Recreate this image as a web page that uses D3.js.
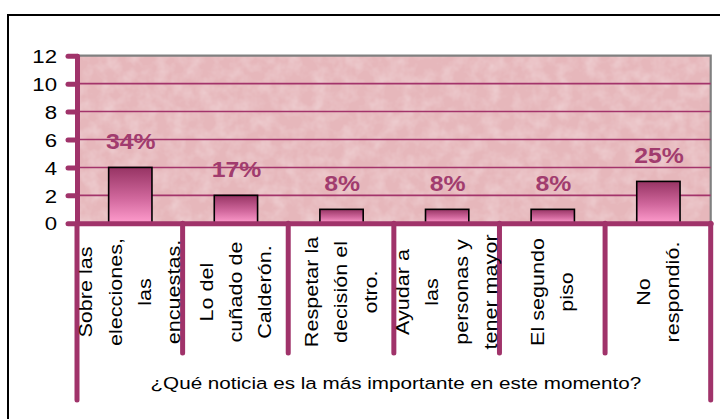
<!DOCTYPE html>
<html>
<head>
<meta charset="utf-8">
<script src="https://cdn.jsdelivr.net/npm/d3@7"></script>
<style>
  body { margin: 0; background: #fff; }
  svg { display: block; font-family: "Liberation Sans", Arial, sans-serif; }
</style>
</head>
<body>
<div class="chartContainer"></div>
<script>
// data
var categories = [
    ["Sobre las", "elecciones,", "las", "encuestas."],
    ["Lo del", "cuñado de", "Calderón."],
    ["Respetar la", "decisión el", "otro."],
    ["Ayudar a", "las", "personas y", "tener mayor"],
    ["El segundo", "piso"],
    ["No", "respondió."]
];
var values = [4, 2, 1, 1, 1, 3];
var percentLabels = ["34%", "17%", "8%", "8%", "8%", "25%"];
var yTicks = [0, 2, 4, 6, 8, 10, 12];
var axisTitle = "¿Qué noticia es la más importante en este momento?";

function Graph() {
    const width = 720;
    const height = 419;
    const left = 77, right = 710.7, top = 55.7, bottom = 223.3;
    const magenta = '#a0336a';

    const xScale = d3.scaleBand()
                     .domain(d3.range(categories.length))
                     .range([left, right])
                     .padding(0);

    const yScale = d3.scaleLinear()
                     .domain([0, 12])
                     .range([bottom, top]);

    const svg = d3.select('.chartContainer')
                  .append('svg')
                    .attr('width', width)
                    .attr('height', height);

    const defs = svg.append('defs');
    const grad = defs.append('linearGradient')
                     .attr('id', 'barGrad')
                     .attr('x1', 0).attr('y1', 0).attr('x2', 0).attr('y2', 1);
    grad.append('stop').attr('offset', '0%').attr('stop-color', '#973464');
    grad.append('stop').attr('offset', '55%').attr('stop-color', '#d0679c');
    grad.append('stop').attr('offset', '100%').attr('stop-color', '#ff9ccd');

    // marbled look for the plot background
    const f = defs.append('filter').attr('id', 'marble')
                  .attr('x', 0).attr('y', 0).attr('width', 1).attr('height', 1);
    f.append('feTurbulence').attr('type', 'fractalNoise')
     .attr('baseFrequency', 0.07).attr('numOctaves', 3).attr('seed', 4);
    f.append('feColorMatrix').attr('type', 'matrix')
     .attr('values', '0 0 0 0 1  0 0 0 0 1  0 0 0 0 1  0 0 0 0.55 -0.2');
    f.append('feComposite').attr('in2', 'SourceGraphic').attr('operator', 'in');

    // outer frame (runs off the picture to the right and bottom)
    svg.append('rect')
       .attr('x', 8).attr('y', 15)
       .attr('width', 730).attr('height', 430)
       .attr('fill', 'none')
       .attr('stroke', '#000')
       .attr('stroke-width', 2);

    // plot area
    svg.append('rect')
       .attr('x', left).attr('y', top)
       .attr('width', right - left).attr('height', bottom - top)
       .attr('fill', '#e6b7bb');
    svg.append('rect')
       .attr('x', left).attr('y', top)
       .attr('width', right - left).attr('height', bottom - top)
       .attr('fill', '#fff')
       .attr('filter', 'url(#marble)');

    // grey border top and right
    svg.append('path')
       .attr('d', `M${left},${top}H${right}V${bottom}`)
       .attr('fill', 'none')
       .attr('stroke', '#808080')
       .attr('stroke-width', 2.2);

    // gridlines
    svg.selectAll('.grid')
       .data(yTicks.filter(t => t > 0 && t < 12))
       .enter()
       .append('line')
         .attr('x1', left).attr('x2', right)
         .attr('y1', d => yScale(d)).attr('y2', d => yScale(d))
         .attr('stroke', '#a3346b')
         .attr('stroke-width', 1.6);

    // bars
    const barW = xScale.bandwidth() * 0.41;
    svg.selectAll('.bar')
       .data(values)
       .enter()
       .append('rect')
         .attr('x', (d, i) => xScale(i) + xScale.bandwidth() / 2 - barW / 2 + 0.5)
         .attr('y', d => yScale(d))
         .attr('width', barW)
         .attr('height', d => bottom - yScale(d))
         .attr('fill', 'url(#barGrad)')
         .attr('stroke', '#000')
         .attr('stroke-width', 1.6);

    // percent labels
    svg.selectAll('.pct')
       .data(values)
       .enter()
       .append('text')
         .attr('transform', (d, i) => `translate(${xScale(i) + xScale.bandwidth() / 2 + 1},${yScale(d) - 18.3}) scale(1.1,1)`)
         .attr('text-anchor', 'middle')
         .attr('font-size', 22.5)
         .attr('font-weight', 'bold')
         .attr('fill', '#a13c6e')
         .text((d, i) => percentLabels[i]);

    // y axis
    const yAxis = svg.append('g')
                     .attr('transform', `translate(${left},0)`)
                     .call(d3.axisLeft(yScale).tickValues(yTicks).tickSizeInner(9).tickSizeOuter(0).tickPadding(11));
    yAxis.select('.domain')
         .attr('stroke', magenta).attr('stroke-width', 5).attr('stroke-linecap', 'round');
    yAxis.selectAll('.tick line')
         .attr('stroke', magenta).attr('stroke-width', 5).attr('stroke-linecap', 'round');
    yAxis.selectAll('.tick text')
         .attr('font-family', '"Liberation Sans", Arial, sans-serif')
         .attr('font-size', 18.5)
         .attr('fill', '#000')
         .attr('x', -20 / 1.2)
         .attr('dy', '0.36em')
         .attr('transform', 'scale(1.2,1)');

    // x axis
    const xAxis = svg.append('g')
                     .attr('transform', `translate(0,${bottom})`)
                     .call(d3.axisBottom(xScale).tickValues([]).tickSizeOuter(0));
    xAxis.select('.domain')
         .attr('stroke', magenta).attr('stroke-width', 5).attr('stroke-linecap', 'round');

    // category dividers
    const bounds = categories.map((c, i) => xScale(i)).concat([right]);
    svg.selectAll('.divider')
       .data(bounds)
       .enter()
       .append('line')
         .attr('x1', d => d).attr('x2', d => d)
         .attr('y1', bottom)
         .attr('y2', (d, i) => (i === 0 || i === bounds.length - 1) ? 400 : 353)
         .attr('stroke', magenta)
         .attr('stroke-width', 5)
         .attr('stroke-linecap', 'round');

    // rotated category labels
    const lineGap = 29.3;
    categories.forEach(function (lines, i) {
        const cx = xScale(i) + xScale.bandwidth() / 2;
        lines.forEach(function (line, j) {
            const lx = cx + (j - (lines.length - 1) / 2) * lineGap;
            svg.append('text')
               .attr('transform', `translate(${lx + 6.4},292) rotate(-90) scale(1.2,1)`)
               .attr('text-anchor', 'middle')
               .attr('font-size', 18)
               .attr('fill', '#000')
               .text(line);
        });
    });

    // axis title
    svg.append('text')
       .attr('transform', `translate(${(left + right) / 2 + 2},389) scale(1.2,1)`)
       .attr('text-anchor', 'middle')
       .attr('font-size', 17.2)
       .attr('fill', '#000')
       .text(axisTitle);
}

Graph();
</script>
</body>
</html>
